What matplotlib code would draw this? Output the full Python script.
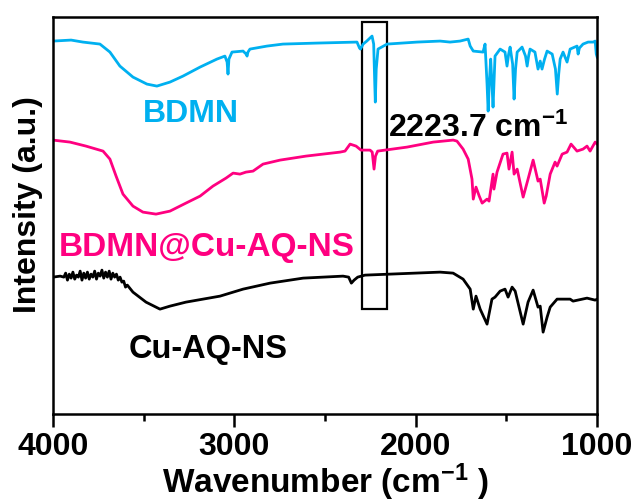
import numpy as np
import matplotlib
matplotlib.use('Agg')
import matplotlib.pyplot as plt
from matplotlib.patches import Rectangle

plt.rcParams['font.family'] = ['Liberation Sans', 'DejaVu Sans']
plt.rcParams['font.weight'] = 'bold'
plt.rcParams['mathtext.fontset'] = 'custom'
plt.rcParams['mathtext.rm'] = 'Liberation Sans:bold'
plt.rcParams['mathtext.it'] = 'Liberation Sans:bold'
plt.rcParams['mathtext.bf'] = 'Liberation Sans:bold'
plt.rcParams['mathtext.default'] = 'rm'

# FTIR spectra, offset for display (arbitrary units)
bdmn_wn = [4000, 3900, 3835, 3741, 3686, 3631, 3559, 3482, 3427, 3355, 3283, 3189,
           3096, 3052, 3040, 3035, 3030, 3013, 2952, 2935, 2930, 2925, 2914, 2820,
           2732, 2544, 2324, 2310, 2305, 2290, 2270, 2241, 2232, 2226, 2223, 2218,
           2208, 2158, 1993, 1866, 1811, 1756, 1711, 1700, 1683, 1629, 1618, 1607,
           1601, 1595, 1587, 1580, 1574, 1568, 1563, 1535, 1508, 1497, 1488, 1480,
           1466, 1458, 1450, 1441, 1414, 1395, 1386, 1378, 1370, 1343, 1326, 1314,
           1304, 1290, 1276, 1248, 1230, 1220, 1212, 1204, 1188, 1166, 1149, 1111,
           1105, 1098, 1078, 1050, 1022, 1011, 1005, 1000]
bdmn_int = [373, 374, 372, 370, 362, 348, 337, 330, 328, 332, 338, 347,
            355, 358, 352, 340, 355, 362, 363, 360, 358, 362, 365, 368,
            370, 371, 372, 366, 365, 370, 373, 378, 370, 330, 312, 345,
            365, 370, 372, 373, 372, 373, 375, 368, 363, 362, 370, 330,
            303, 330, 355, 330, 307, 335, 358, 365, 362, 348, 360, 367,
            350, 315, 345, 362, 367, 358, 348, 358, 365, 362, 345, 353,
            345, 355, 363, 360, 345, 320, 340, 355, 362, 352, 365, 368,
            360, 366, 370, 372, 372, 373, 360, 357]

comp_wn = [4000, 3906, 3818, 3724, 3686, 3652, 3614, 3559, 3504, 3432, 3355, 3267,
           3189, 3118, 3046, 3007, 2969, 2936, 2897, 2842, 2748, 2605, 2417, 2390,
           2362, 2329, 2302, 2252, 2240, 2230, 2222, 2210, 2048, 1904, 1794, 1773,
           1739, 1711, 1690, 1683, 1668, 1650, 1634, 1607, 1596, 1574, 1569, 1552,
           1519, 1497, 1486, 1469, 1458, 1441, 1408, 1381, 1353, 1326, 1314, 1292,
           1281, 1259, 1232, 1221, 1193, 1166, 1144, 1111, 1078, 1056, 1039, 1011,
           1000]
comp_int = [274, 272, 268, 263, 255, 238, 220, 208, 202, 200, 203, 211,
            218, 228, 236, 241, 240, 242, 243, 250, 254, 258, 262, 263,
            270, 268, 264, 264, 262, 245, 258, 263, 267, 272, 274, 273,
            265, 255, 235, 215, 227, 218, 211, 215, 213, 240, 225, 242,
            260, 261, 245, 262, 240, 245, 217, 235, 254, 233, 235, 211,
            218, 240, 252, 248, 260, 262, 270, 263, 265, 268, 263, 272,
            270]

cuaq_wn = [4000, 3960, 3940, 3930, 3920, 3910, 3900, 3890, 3880, 3870, 3860, 3850,
           3840, 3830, 3820, 3810, 3800, 3790, 3780, 3770, 3760, 3750, 3740, 3730,
           3720, 3710, 3700, 3690, 3680, 3670, 3660, 3650, 3640, 3630, 3620, 3610,
           3600, 3590, 3559, 3487, 3410, 3355, 3267, 3079, 2952, 2803, 2621, 2401,
           2370, 2355, 2340, 2320, 2280, 2142, 1866, 1794, 1739, 1700, 1683, 1668,
           1645, 1607, 1580, 1563, 1535, 1508, 1491, 1469, 1452, 1408, 1381, 1353,
           1326, 1314, 1298, 1276, 1259, 1221, 1149, 1133, 1056, 1011, 1000]
cuaq_int = [137, 138, 137, 141, 134, 140, 136, 142, 135, 139, 137, 143,
            134, 141, 136, 142, 135, 140, 137, 143, 135, 141, 138, 144,
            136, 142, 137, 143, 135, 141, 137, 140, 134, 137, 132, 133,
            127, 129, 122, 112, 105, 108, 112, 118, 125, 131, 136, 138,
            137, 131, 134, 137, 139, 140, 142, 141, 135, 125, 105, 118,
            105, 90, 115, 117, 123, 125, 117, 127, 123, 90, 112, 124,
            107, 108, 82, 97, 107, 115, 115, 113, 116, 114, 115]

# nitrile band window
cn_band = (2158, 2296)
cn_label = r'2223.7 cm$^{-1}$'

fig = plt.figure(figsize=(6.38, 5.02), dpi=100)
ax = fig.add_axes([0.083, 0.173, 0.853, 0.791])

ax.plot(bdmn_wn, bdmn_int, color='#00B0F0', lw=2.0)
ax.plot(comp_wn, comp_int, color='#FF0080', lw=2.0)
ax.plot(cuaq_wn, cuaq_int, color='black', lw=2.0)

ax.add_patch(Rectangle((cn_band[0], 105), cn_band[1] - cn_band[0], 287,
                       fill=False, edgecolor='black', lw=1.6))

ax.text(3239, 293, 'BDMN', color='#00B0F0', fontsize=23, fontweight='bold',
        ha='center', va='baseline')
ax.text(3150, 159, 'BDMN@Cu-AQ-NS', color='#FF0080', fontsize=24,
        fontweight='bold', ha='center', va='baseline')
ax.text(3142, 57, 'Cu-AQ-NS', color='black', fontsize=23.5, fontweight='bold',
        ha='center', va='baseline')
ax.text(2152, 278, cn_label, color='black', fontsize=23, fontweight='bold',
        ha='left', va='baseline')

ax.set_xlim(4000, 1000)
ax.set_ylim(0, 397)
ax.set_xticks([4000, 3000, 2000, 1000])
ax.set_xticks([3500, 2500, 1500], minor=True)
ax.set_yticks([])
ax.tick_params(axis='x', which='major', direction='out', length=9, width=1.8,
               labelsize=23, pad=3)
ax.tick_params(axis='x', which='minor', direction='out', length=5, width=1.8)
for lab in ax.get_xticklabels():
    lab.set_fontweight('bold')
for sp in ax.spines.values():
    sp.set_linewidth(1.8)

ax.set_xlabel(r'Wavenumber (cm$^{-1}$ )', fontsize=24, fontweight='bold',
              labelpad=0)
ax.set_ylabel('Intensity (a.u.)', fontsize=23, fontweight='bold')
ax.yaxis.set_label_coords(-0.019, 0.53)

fig.savefig('out.png', dpi=100)
